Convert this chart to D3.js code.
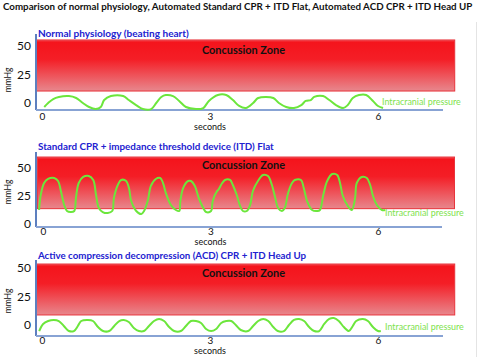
<!DOCTYPE html>
<html>
<head>
<meta charset="utf-8">
<script src="https://cdn.jsdelivr.net/npm/d3@7/dist/d3.min.js"></script>
<style>
  html, body { margin: 0; padding: 0; background: #fff; }
  svg { display: block; }
  text { font-family: Lato, "Open Sans", sans-serif; }
</style>
</head>
<body>
<svg id="chart" width="480" height="357"></svg>
<script>
// ---------- DATA ----------
const chartTitle = "Comparison of normal physiology, Automated Standard CPR + ITD Flat, Automated ACD CPR + ITD Head UP";
const panelTitles = [
  "Normal physiology (beating heart)",
  "Standard CPR + impedance threshold device (ITD) Flat",
  "Active compression decompression (ACD) CPR + ITD Head Up"
];
const timeTicks = [0, 3, 6];
const pressureTicks = [0, 25, 50];
const zoneLabel = "Concussion Zone";
const seriesLabel = "Intracranial pressure";
const xLabel = "seconds";
const yLabel = "mmHg";
const zoneLow = [10.5, 13.7, 8.8];
const zoneHigh = [55.3, 59.8, 53.5];
const zoneTime = [-0.1, 7.37];

// Panel 1: normal physiology
const normalTime = [0.04,0.11,0.20,0.30,0.48,0.61,0.73,0.84,0.96,1.05,1.11,1.23,1.45,1.55,1.68,1.80,1.95,2.04,2.13,2.21,2.34,2.45,2.57,2.75,2.88,2.98,3.14,3.29,3.41,3.52,3.64,3.77,3.86,4.00,4.13,4.23,4.36,4.50,4.63,4.71,4.80,4.86,5.02,5.13,5.25,5.38,5.46,5.55,5.66,5.79,5.91,6.00,6.09];
const normalICP  = [-3.5,0,3.5,5.3,6.1,4.4,0,-3.5,-5.3,-3.5,2.6,6.1,6.1,2.6,-1.8,-5.3,-5.3,0,5.3,7.0,6.1,1.8,-3.5,-5.3,-4.4,1.8,7.0,7.0,2.6,-2.6,-4.4,0,4.4,5.3,4.4,0,-3.5,-4.4,-1.8,1.8,2.6,5.3,6.1,2.6,-1.8,-4.4,-1.8,4.4,7.0,7.0,1.8,-2.6,-4.4];

// Panel 2: standard CPR + ITD flat
const cprTime = [-0.07,-0.04,0.02,0.09,0.20,0.27,0.32,0.38,0.43,0.50,0.56,0.59,0.64,0.72,0.82,0.90,0.95,1.00,1.07,1.16,1.24,1.27,1.34,1.40,1.49,1.54,1.58,1.67,1.76,1.81,1.88,1.93,2.02,2.10,2.15,2.20,2.29,2.38,2.44,2.46,2.51,2.60,2.65,2.72,2.79,2.87,2.92,3.01,3.04,3.12,3.14,3.21,3.26,3.35,3.40,3.47,3.53,3.58,3.65,3.71,3.76,3.85,3.94,4.03,4.10,4.16,4.21,4.28,4.33,4.39,4.46,4.51,4.62,4.67,4.73,4.82,4.91,4.96,5.02,5.09,5.18,5.27,5.32,5.37,5.46,5.53,5.59,5.62,5.71,5.80,5.86,5.91,5.98,6.07,6.13];
const cprICP  = [12.5,25.9,36.6,40.2,41.1,38.4,29.5,17.0,11.6,10.7,11.6,23.2,36.6,42.0,42.9,39.3,25.9,14.3,10.7,9.8,11.6,23.2,34.8,39.3,38.4,32.1,20.5,11.6,8.9,11.6,21.4,33.9,40.2,41.1,36.6,27.7,17.0,12.5,11.6,20.5,32.1,38.4,38.4,33.9,23.2,14.3,10.7,11.6,20.5,29.5,30.4,36.6,39.3,39.3,34.8,25.9,16.1,11.6,11.6,17.0,29.5,38.4,43.8,42.9,34.8,23.2,14.3,11.6,14.3,27.7,36.6,39.3,39.3,32.1,20.5,12.5,11.6,12.5,25.9,38.4,44.6,43.8,36.6,25.0,16.1,12.5,23.2,36.6,42.0,41.1,34.8,25.0,17.0,12.5,12.5];

// Panel 3: ACD CPR + ITD head up
const acdTime = [-0.05,0.02,0.11,0.21,0.30,0.39,0.48,0.57,0.64,0.70,0.82,0.91,1.00,1.09,1.20,1.29,1.38,1.46,1.55,1.64,1.73,1.82,1.91,2.00,2.09,2.18,2.27,2.36,2.48,2.57,2.66,2.75,2.84,2.93,3.02,3.11,3.20,3.29,3.38,3.46,3.55,3.68,3.77,3.86,3.95,4.04,4.13,4.21,4.32,4.41,4.50,4.59,4.68,4.77,4.86,4.95,5.04,5.13,5.21,5.30,5.39,5.48,5.55,5.61,5.73,5.82,5.91,6.00,6.05];
const acdICP  = [-5.3,0.9,3.5,4.4,3.5,-0.9,-5.3,-5.3,-0.9,3.5,4.4,3.5,-1.8,-5.3,-5.3,-0.9,3.5,4.4,2.6,-2.6,-5.3,-5.3,-0.9,3.5,5.3,3.5,-1.8,-5.3,-5.3,-0.9,3.5,3.5,1.8,-3.5,-5.3,-3.5,1.8,3.5,3.5,0,-4.4,-5.3,-0.9,3.5,5.3,3.5,-1.8,-5.3,-5.3,0,4.4,5.3,3.5,-1.8,-5.3,-5.3,0.9,5.3,6.1,3.5,-1.8,-5.3,-0.9,3.5,5.3,3.5,-1.8,-5.3,-5.3];

const seriesTime = [normalTime, cprTime, acdTime];
const seriesICP = [normalICP, cprICP, acdICP];

// ---------- LAYOUT (pixels) ----------
const layout = [
  { titleY: 33, axisX: 36, axisTop: 34, axisBottom: 110, axisRight: 443, x0: 42, x6: 378, y0: 103, y50: 46, zoneTextY: 50, tickY: 117, secY: 127, mmY: 80, icpX: 382, icpY: 102, titleW: 151 },
  { titleY: 147, axisX: 36, axisTop: 152, axisBottom: 227, axisRight: 442, x0: 43, x6: 378, y0: 224, y50: 168, zoneTextY: 165, tickY: 232, secY: 242, mmY: 192, icpX: 385, icpY: 213, titleW: 236 },
  { titleY: 256, axisX: 36, axisTop: 260, axisBottom: 336, axisRight: 443, x0: 42, x6: 378, y0: 325, y50: 268, zoneTextY: 273, tickY: 341, secY: 351, mmY: 301, icpX: 385, icpY: 327, titleW: 268 }
];

const svg = d3.select("#chart");

function fit(sel, w) {
  const node = sel.node();
  const fs = parseFloat(sel.attr("font-size"));
  const len = node.getComputedTextLength();
  if (len > 0) sel.attr("font-size", (fs * w / len).toFixed(2));
}

// gradient
const defs = svg.append("defs");
const grad = defs.append("linearGradient").attr("id", "zoneGrad")
  .attr("x1", 0).attr("y1", 0).attr("x2", 0).attr("y2", 1);
grad.append("stop").attr("offset", "0%").attr("stop-color", "#f45a62");
grad.append("stop").attr("offset", "4%").attr("stop-color", "#f4141c");
grad.append("stop").attr("offset", "38%").attr("stop-color", "#f41e26");
grad.append("stop").attr("offset", "100%").attr("stop-color", "#e8878d");

// main title
const t = svg.append("text").attr("x", 3).attr("y", 10).attr("font-size", 11)
  .attr("font-weight", "bold").attr("fill", "#111").text(chartTitle);
fit(t, 470);

// faint right border
svg.append("line").attr("x1", 476.5).attr("x2", 476.5).attr("y1", 22).attr("y2", 357)
  .attr("stroke", "#e4e4e4").attr("stroke-width", 1);

layout.forEach((L, i) => {
  const g = svg.append("g");
  const x = d3.scaleLinear().domain([0, 6]).range([L.x0, L.x6]);
  const y = d3.scaleLinear().domain([0, 50]).range([L.y0, L.y50]);

  // zone
  g.append("rect")
    .attr("x", x(zoneTime[0])).attr("width", x(zoneTime[1]) - x(zoneTime[0]))
    .attr("y", y(zoneHigh[i])).attr("height", y(zoneLow[i]) - y(zoneHigh[i]))
    .attr("fill", "url(#zoneGrad)").attr("stroke", "#e8343c").attr("stroke-width", 1);

  // zone label
  const zl = g.append("text").attr("x", 202).attr("y", L.zoneTextY).attr("dy", "0.35em")
    .attr("font-size", 12).attr("font-weight", "bold").attr("fill", "#111").text(zoneLabel);
  fit(zl, 83);

  // axes lines
  g.append("line").attr("x1", L.axisX).attr("x2", L.axisX).attr("y1", L.axisTop).attr("y2", L.axisBottom)
    .attr("stroke", "#5d7fbf").attr("stroke-width", 2);
  g.append("line").attr("x1", L.axisX).attr("x2", L.axisRight).attr("y1", L.axisBottom).attr("y2", L.axisBottom)
    .attr("stroke", "#88a3d4").attr("stroke-width", 2);

  // y axis ticks
  const ya = g.append("g").attr("transform", `translate(${L.axisX},0)`)
    .call(d3.axisLeft(y).tickValues(pressureTicks).tickSize(0).tickPadding(5).tickFormat(d3.format("d")));
  ya.select(".domain").remove();
  ya.selectAll("text").attr("font-size", 12).attr("fill", "#111").attr("font-family", "Lato, sans-serif");

  // x axis ticks
  const xa = g.append("g").attr("transform", `translate(0,${L.tickY})`)
    .call(d3.axisBottom(x).tickValues(timeTicks).tickSize(0).tickPadding(0).tickFormat(d3.format("d")));
  xa.select(".domain").remove();
  xa.selectAll("text").attr("font-size", 10).attr("fill", "#111").attr("dy", "0.32em")
    .attr("font-family", "Lato, sans-serif");

  g.append("text").attr("x", x(3)).attr("y", L.secY).attr("dy", "0.35em").attr("text-anchor", "middle")
    .attr("font-size", 9).attr("fill", "#111").text(xLabel);
  g.append("text").attr("transform", `translate(8,${L.mmY}) rotate(-90)`).attr("dy", "0.35em")
    .attr("text-anchor", "middle").attr("font-size", 8.5).attr("fill", "#111").text(yLabel);

  // title
  const pt = g.append("text").attr("x", 38).attr("y", L.titleY).attr("dy", "0.35em")
    .attr("font-size", 11).attr("font-weight", "bold").attr("fill", "#2222d0").text(panelTitles[i]);
  fit(pt, L.titleW);

  // series
  const pts = seriesTime[i].map((tt, k) => [tt, seriesICP[i][k]]);
  const line = d3.line().x(d => x(d[0])).y(d => y(d[1])).curve(d3.curveCatmullRom.alpha(0.5));
  g.append("path").datum(pts).attr("d", line).attr("fill", "none")
    .attr("stroke", "#6ce63c").attr("stroke-width", 2).attr("stroke-linejoin", "round");

  const il = g.append("text").attr("x", L.icpX).attr("y", L.icpY).attr("dy", "0.35em")
    .attr("font-size", 9).attr("fill", "#7ee24e").text(seriesLabel);
  fit(il, 79);
});
</script>
</body>
</html>
